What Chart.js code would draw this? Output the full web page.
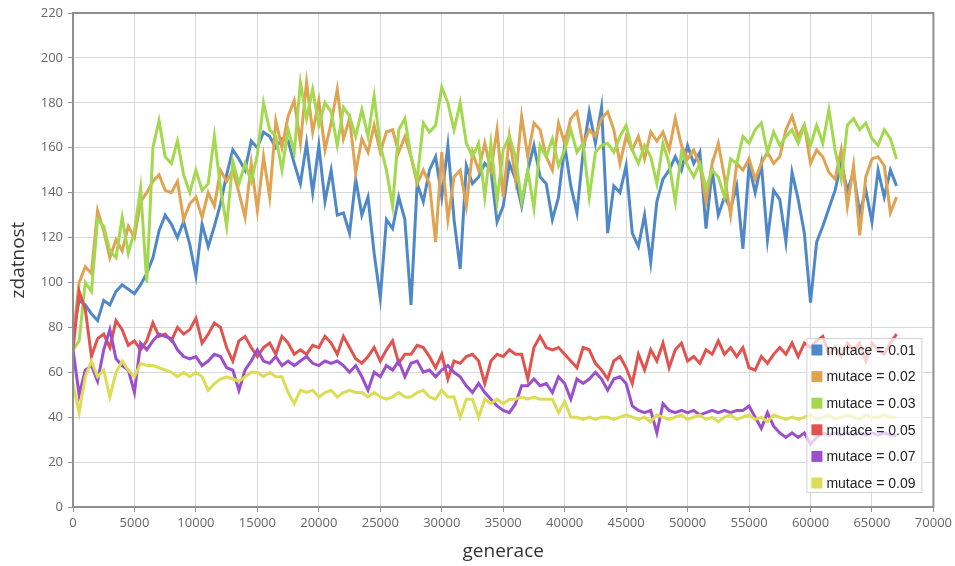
<!DOCTYPE html>
<html>
<head>
<meta charset="utf-8">
<script src="https://cdn.jsdelivr.net/npm/chart.js@4"></script>
<style>
  html, body { margin: 0; padding: 0; background: #fff; }
</style>
</head>
<body>
<canvas id="chart" width="955" height="566"></canvas>
<script>
// generace (x axis), one sample every 500 generations
const generations = [
  0,500,1000,1500,2000,2500,3000,3500,4000,4500,
  5000,5500,6000,6500,7000,7500,8000,8500,9000,9500,
  10000,10500,11000,11500,12000,12500,13000,13500,14000,14500,
  15000,15500,16000,16500,17000,17500,18000,18500,19000,19500,
  20000,20500,21000,21500,22000,22500,23000,23500,24000,24500,
  25000,25500,26000,26500,27000,27500,28000,28500,29000,29500,
  30000,30500,31000,31500,32000,32500,33000,33500,34000,34500,
  35000,35500,36000,36500,37000,37500,38000,38500,39000,39500,
  40000,40500,41000,41500,42000,42500,43000,43500,44000,44500,
  45000,45500,46000,46500,47000,47500,48000,48500,49000,49500,
  50000,50500,51000,51500,52000,52500,53000,53500,54000,54500,
  55000,55500,56000,56500,57000,57500,58000,58500,59000,59500,
  60000,60500,61000,61500,62000,62500,63000,63500,64000,64500,
  65000,65500,66000,66500,67000
];

const mutace001 = [
  78,92,90,86,83,92,90,96,99,97,
  95,99,104,111,123,130,126,120,127,117,
  103,126,116,125,135,148,159,155,150,163,
  160,167,165,160,164,163,153,144,162,140,
  161,136,150,130,131,122,146,130,138,113,
  93,128,124,138,128,90,144,136,150,156,
  138,161,128,106,152,144,147,153,150,127,
  134,153,146,134,150,161,147,144,128,138,
  161,143,131,158,176,162,178,122,143,140,
  152,122,116,130,109,136,146,150,156,150,
  161,153,158,124,150,130,138,133,143,115,
  152,140,153,119,141,137,118,149,137,122,
  91,118,125,133,141,153,141,149,131,141,
  127,150,138,150,143
];

const mutace002 = [
  75,100,107,104,132,123,111,119,114,125,
  120,136,140,145,148,141,140,145,128,135,
  138,129,140,134,150,145,150,140,129,153,
  132,156,138,172,160,174,181,162,189,167,
  181,159,171,186,164,173,149,164,158,170,
  158,167,168,158,165,156,144,150,144,118,
  158,128,147,150,134,158,150,162,150,168,
  138,165,146,174,156,171,168,156,150,171,
  162,173,176,161,168,165,173,176,168,153,
  165,159,165,155,167,163,167,159,173,161,
  155,159,152,136,153,162,147,130,153,150,
  155,146,153,158,153,156,168,174,165,170,
  153,159,156,149,146,159,134,152,121,147,
  155,156,152,131,138
];

const mutace003 = [
  70,74,100,96,128,125,114,111,129,113,
  123,142,100,160,172,156,153,163,148,140,
  150,141,144,165,142,125,154,144,153,145,
  157,180,168,165,150,168,158,189,173,186,
  170,180,176,161,178,174,165,177,165,183,
  161,150,134,168,173,156,146,171,167,170,
  187,180,168,180,162,156,162,138,162,136,
  159,165,156,136,150,133,161,156,164,152,
  159,168,158,162,138,158,161,162,158,165,
  170,159,153,161,156,144,162,153,136,158,
  152,147,153,142,150,147,138,155,153,165,
  162,168,171,158,167,161,165,168,162,170,
  161,170,162,177,159,146,170,173,168,171,
  164,161,168,164,155
];

const mutace005 = [
  70,96,88,67,75,77,71,83,79,72,
  74,70,74,82,76,77,74,80,77,79,
  84,73,77,82,80,71,65,74,76,71,
  67,71,73,68,76,73,68,70,68,72,
  71,76,73,68,76,71,66,64,67,71,
  65,70,74,64,68,68,72,71,67,62,
  68,57,65,64,67,68,65,55,65,68,
  67,70,68,68,57,71,76,71,70,71,
  68,65,62,71,70,64,61,57,65,67,
  62,55,68,61,70,65,73,62,70,73,
  65,67,64,70,68,74,68,71,67,71,
  62,61,67,64,68,71,68,73,67,73,
  71,74,76,68,71,67,73,70,73,65,
  73,70,68,73,77
];

const mutace007 = [
  70,50,61,63,56,70,79,66,63,61,
  51,73,70,74,77,76,75,70,67,66,
  67,63,65,68,67,62,61,52,61,65,
  70,65,64,67,63,65,63,65,67,64,
  63,65,64,65,63,60,63,58,52,60,
  58,63,61,65,58,64,65,60,61,58,
  61,63,60,58,54,51,55,51,48,45,
  43,42,46,54,54,57,54,55,51,58,
  55,48,57,55,57,60,57,52,57,58,
  55,45,43,42,43,33,46,43,42,43,
  42,43,41,42,43,42,43,42,43,43,
  45,40,35,42,36,33,31,33,31,33,
  28,31,33,32,33,32,33,32,33,32,
  33,32,33,32,32
];

const mutace009 = [
  55,42,58,65,58,61,49,60,65,61,
  58,64,63,63,62,61,60,58,60,58,
  60,58,52,55,57,58,57,56,58,60,
  60,58,60,58,58,51,46,52,51,52,
  49,51,52,49,51,52,51,51,49,51,
  49,48,49,51,49,49,51,52,49,48,
  52,49,49,40,48,48,40,48,46,48,
  46,48,48,49,48,49,48,48,48,42,
  47,40,40,39,40,39,40,40,39,40,
  41,40,39,40,38,41,40,39,40,41,
  39,40,41,39,40,38,40,41,39,40,
  41,39,40,38,41,40,39,40,39,40,
  41,39,40,41,39,40,41,40,39,41,
  40,40,41,40,40
];

const seriesLabels = ["mutace = 0.01", "mutace = 0.02", "mutace = 0.03", "mutace = 0.05", "mutace = 0.07", "mutace = 0.09"];
const seriesValues = [mutace001, mutace002, mutace003, mutace005, mutace007, mutace009];
const seriesColors = ["#4f88c8", "#e0a352", "#a3d94f", "#e0534f", "#9b4fcc", "#dcdc55"];

Chart.defaults.font.family = "'Open Sans', sans-serif";

// frame around the plot + legend box sitting inside the plot area
const frameAndLegend = {
    id: "frameAndLegend",
    afterDatasetsDraw(chart) {
        const ctx = chart.ctx;
        const a = chart.chartArea;
        ctx.save();
        ctx.strokeStyle = "#8f8f8f";
        ctx.lineWidth = 2;
        ctx.strokeRect(a.left, a.top, a.right - a.left, a.bottom - a.top);

        const bx = a.right - 127, by = a.top + 325, bw = 116, bh = 155;
        ctx.fillStyle = "rgba(255,255,255,0.72)";
        ctx.fillRect(bx, by, bw, bh);
        ctx.strokeStyle = "rgba(200,200,200,0.8)";
        ctx.lineWidth = 1;
        ctx.strokeRect(bx + 0.5, by + 0.5, bw - 1, bh - 1);

        ctx.font = "14px 'Liberation Sans', Arial, sans-serif";
        ctx.textBaseline = "middle";
        chart.data.datasets.forEach((ds, i) => {
            const cy = by + 12 + i * 26.6;
            ctx.fillStyle = ds.borderColor;
            ctx.fillRect(bx + 5, cy - 5.5, 11, 11);
            ctx.fillStyle = "#222";
            ctx.fillText(ds.label, bx + 20, cy + 1);
        });
        ctx.restore();
    }
};

const ctx = document.getElementById("chart").getContext("2d");
new Chart(ctx, {
    type: "line",
    data: {
        datasets: seriesValues.map((vals, i) => ({
            label: seriesLabels[i],
            data: vals.map((v, j) => ({ x: generations[j], y: v })),
            borderColor: seriesColors[i],
            backgroundColor: seriesColors[i],
            borderWidth: 3,
            pointRadius: 0,
            tension: 0,
            fill: false,
            order: seriesValues.length - i
        }))
    },
    options: {
        responsive: false,
        animation: false,
        devicePixelRatio: 1,
        layout: { padding: { top: 13, right: 21, left: 0, bottom: 0 } },
        plugins: {
            legend: { display: false },
            tooltip: { enabled: false }
        },
        scales: {
            x: {
                type: "linear",
                min: 0,
                max: 70000,
                ticks: {
                    stepSize: 5000, color: "#666", font: { size: 13 }, padding: 3, maxRotation: 0,
                    callback: (v) => String(v)
                },
                grid: { color: "#d9d9d9", tickLength: 5, tickColor: "#8f8f8f" },
                border: { display: false },
                title: { display: true, text: "generace", color: "#333", font: { size: 19 }, padding: { top: 0, bottom: 3 } },
                afterFit(scale) { scale.height = 59; }
            },
            y: {
                min: 0,
                max: 220,
                ticks: { stepSize: 20, color: "#666", font: { size: 13 }, padding: 5 },
                grid: { color: "#d9d9d9", tickLength: 5, tickColor: "#8f8f8f" },
                border: { display: false },
                title: { display: true, text: "zdatnost", color: "#333", font: { size: 19 }, padding: { top: 7, bottom: 0 } },
                afterFit(scale) { scale.width = 73; }
            }
        }
    },
    plugins: [frameAndLegend]
});
</script>
</body>
</html>
